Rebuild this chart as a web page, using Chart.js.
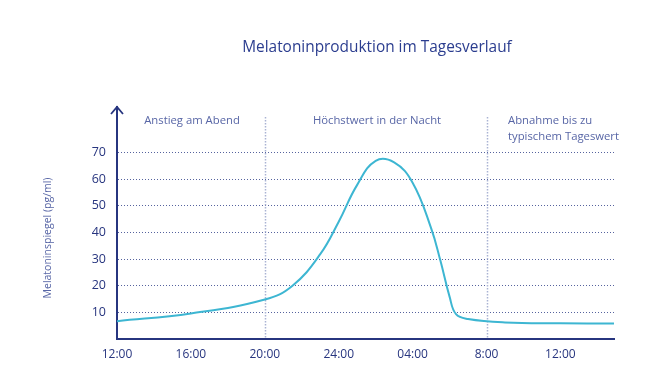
<!DOCTYPE html>
<html>
<head>
<meta charset="utf-8">
<script src="https://cdn.jsdelivr.net/npm/chart.js@4"></script>
<style>
  html,body{margin:0;padding:0;background:#fff;}
  #wrap{width:664px;height:387px;}
</style>
</head>
<body>
<div id="wrap"><canvas id="chart" width="664" height="387"></canvas></div>
<script>
// data (hours since 12:00 noon, pg/ml)
const hours  = [0, 4, 8, 9.5, 11, 12, 13, 14, 15, 16, 17, 17.5, 18, 18.35, 19, 21, 24, 26.9];
const values = [6.7, 9.6, 14.8, 20.0, 31.8, 44.0, 57.8, 66.8, 66.2, 58.6, 41.6, 29.5, 15.9, 9.3, 7.5, 6.2, 5.9, 5.8];
const tickHours  = [0, 4, 8, 12, 16, 20, 24];
const tickLabels = ['12:00', '16:00', '20:00', '24:00', '04:00', '8:00', '12:00'];
const yTicks = [10, 20, 30, 40, 50, 60, 70];
const phaseBounds = [8, 20];
const title = 'Melatoninproduktion im Tagesverlauf';
const yTitle = 'Melatoninspiegel (pg/ml)';

const navy = '#27357f';
const font = '"Open Sans", "DejaVu Sans", sans-serif';

const extras = {
  id: 'extras',
  beforeDatasetsDraw(chart){
    const {ctx, chartArea, scales} = chart;
    ctx.save();
    // phase separators
    ctx.strokeStyle = '#aab3d3';
    ctx.lineWidth = 1.5;
    ctx.setLineDash([1.5, 1.5]);
    phaseBounds.forEach(h=>{
      const x = Math.round(scales.x.getPixelForValue(h)) + 0.5;
      ctx.beginPath();
      ctx.moveTo(x, 117);
      ctx.lineTo(x, chartArea.bottom);
      ctx.stroke();
    });
    ctx.restore();
  },
  afterDraw(chart){
    const {ctx, chartArea} = chart;
    ctx.save();
    // arrow head on y axis
    ctx.strokeStyle = navy;
    ctx.lineWidth = 1.8;
    ctx.beginPath();
    ctx.moveTo(chartArea.left - 6, chartArea.top + 7);
    ctx.lineTo(chartArea.left, chartArea.top);
    ctx.lineTo(chartArea.left + 6, chartArea.top + 7);
    ctx.stroke();

    // title
    ctx.fillStyle = '#2b3d8f';
    ctx.font = '15.4px ' + font;
    ctx.textAlign = 'center';
    ctx.textBaseline = 'middle';
    ctx.fillText(title, 377, 48);

    // phase labels
    ctx.fillStyle = '#5866a6';
    ctx.font = '11.3px ' + font;
    ctx.fillText('Anstieg am Abend', 192, 121);
    ctx.fillText('Höchstwert in der Nacht', 377, 121);
    ctx.textAlign = 'left';
    ctx.fillText('Abnahme bis zu', 508, 121);
    ctx.fillText('typischem Tageswert', 508, 137);

    // y title
    ctx.font = '10.5px ' + font;
    ctx.textAlign = 'center';
    ctx.translate(48, 238);
    ctx.rotate(-Math.PI/2);
    ctx.fillText(yTitle, 0, 0);
    ctx.restore();
  }
};

new Chart(document.getElementById('chart'), {
  type: 'line',
  data: {
    datasets: [{
      data: hours.map((h,i)=>({x:h, y:values[i]})),
      borderColor: '#3db6d2',
      borderWidth: 2,
      pointRadius: 0,
      tension: 0.42,
      fill: false
    }]
  },
  options: {
    responsive: false,
    animation: false,
    layout: {padding: {top: 107, right: 50, left: 0, bottom: 0}},
    plugins: {legend: {display: false}, tooltip: {enabled: false}, title: {display: false}},
    scales: {
      x: {
        type: 'linear',
        min: 0, max: 26.9,
        afterFit(scale){ scale.height = 48; },
        afterBuildTicks(scale){ scale.ticks = tickHours.map(v=>({value:v})); },
        ticks: {
          padding: 8, color: navy, maxRotation: 0, autoSkip: false,
          font: {family: font, size: 12},
          callback: (v)=> tickLabels[tickHours.indexOf(v)]
        },
        grid: {display: true, drawOnChartArea: false, drawTicks: false},
        border: {display: true, color: navy, width: 2}
      },
      y: {
        min: 0, max: 87,
        afterFit(scale){ scale.width = 117; },
        afterBuildTicks(scale){ scale.ticks = yTicks.map(v=>({value:v})); },
        ticks: {padding: 11, color: navy, font: {family: font, size: 12.5}},
        grid: {color: '#56639e', lineWidth: 1, drawTicks: false},
        border: {display: true, color: navy, width: 2, dash: [1, 2]}
      }
    }
  },
  plugins: [extras]
});
</script>
</body>
</html>
